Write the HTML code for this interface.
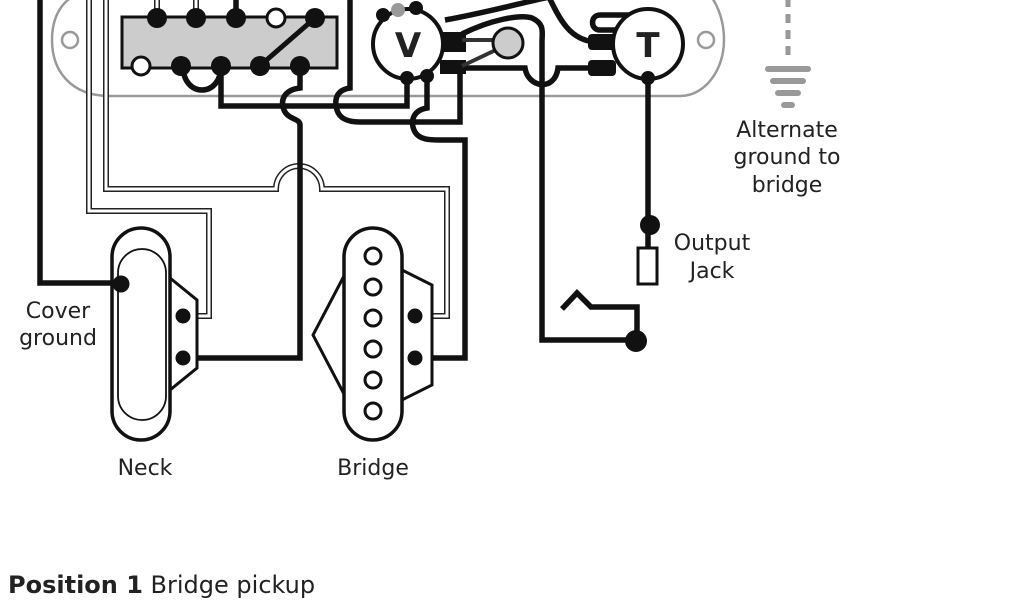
<!DOCTYPE html>
<html><head><meta charset="utf-8"><style>
html,body{margin:0;padding:0;background:#fff;}
svg{display:block;}
text{font-family:"DejaVu Sans","Liberation Sans",sans-serif;fill:#222;}
</style></head><body>
<svg width="1024" height="600" viewBox="0 0 1024 600" xmlns="http://www.w3.org/2000/svg">
<path d="M100,-10 C60,-10 52,20 52,40 C52,70 70,96 110,96 L680,96 C705,96 724,70 724,40 C724,15 712,-10 700,-10" fill="none" stroke="#999" stroke-width="2.5"/>
<circle cx="70" cy="40" r="8" fill="#fff" stroke="#999" stroke-width="2.5"/>
<circle cx="706" cy="40" r="8" fill="#fff" stroke="#999" stroke-width="2.5"/>

<line x1="788" y1="-2" x2="788" y2="62" stroke="#999" stroke-width="5" stroke-dasharray="9,7"/>
<g stroke="#999" stroke-width="6" stroke-linecap="round">
<line x1="768" y1="69" x2="808" y2="69"/><line x1="773" y1="81" x2="803" y2="81"/><line x1="778" y1="93" x2="798" y2="93"/><line x1="784" y1="105" x2="792" y2="105"/>
</g>

<g fill="none" stroke-linejoin="miter">
<path d="M89,-5 L89,211 L209,211 L209,316 L183,316" stroke="#222" stroke-width="6"/>
<path d="M89,-5 L89,211 L209,211 L209,316 L183,316" stroke="#fff" stroke-width="3"/>
<path d="M106,-5 L106,189 L276,189 A22,22 0 0 1 322,189 L447,189 L447,316 L415,316" stroke="#222" stroke-width="6"/>
<path d="M106,-5 L106,189 L276,189 A22,22 0 0 1 322,189 L447,189 L447,316 L415,316" stroke="#fff" stroke-width="3"/>
<path d="M157,-5 L157,18" stroke="#222" stroke-width="6"/><path d="M157,-5 L157,18" stroke="#fff" stroke-width="3"/>
<path d="M196,-5 L196,18" stroke="#222" stroke-width="6"/><path d="M196,-5 L196,18" stroke="#fff" stroke-width="3"/>
</g>

<g fill="none" stroke="#111" stroke-width="5.5" stroke-linejoin="miter">
<path d="M40,-5 L40,283 L120,283"/>
<line x1="236" y1="-5" x2="236" y2="18"/>
<path d="M183,66 C183,98 221,98 221,66"/>
<path d="M221,66 L221,106 L407,106 L407,78"/>
<path d="M300,66 L300,88 C284,90 280,100 284,110 C288,120 300,118 300,125 L300,358 L183,358"/>
<path d="M350,-5 L350,88 C336,90 334,100 337,110 C340,120 350,122 360,122 L460,122 L460,65"/>
<path d="M427,76 L427,108 C414,110 410,120 414,130 C418,140 430,140 440,140 L465,140 L465,358 L415,358"/>
<path d="M465,68 L525,68 C528,88 555,92 558,68 L595,68"/>
<path d="M462,34 C490,20 520,14 532,18 C545,24 542,32 542,42 L542,340 L636,340"/>
<path d="M445,20 C490,12 540,-2 560,-5"/>
<path d="M548,-5 C560,20 570,40 595,42"/>
<path d="M640,15 L600,15 C590,15 590,30 600,30 L620,30"/>
<path d="M648,78 L648,248"/>
<path d="M562,309 L577,293 L591,307 L637,307 L637,340"/>
</g>
<circle cx="650" cy="225" r="10" fill="#111"/>
<rect x="638" y="248" width="19" height="36" fill="#fff" stroke="#111" stroke-width="3"/>
<circle cx="636" cy="341" r="11" fill="#111"/>

<rect x="122" y="17" width="215" height="51" fill="#ccc" stroke="#111" stroke-width="3"/>
<g fill="#111">
<circle cx="157" cy="18" r="10"/><circle cx="196" cy="18" r="10"/><circle cx="236" cy="18" r="10"/><circle cx="315" cy="18" r="10"/>
<circle cx="181" cy="66" r="10"/><circle cx="221" cy="66" r="10"/><circle cx="260" cy="66" r="10"/><circle cx="300" cy="66" r="10"/>
</g>
<circle cx="276" cy="18" r="9" fill="#fff" stroke="#111" stroke-width="3"/>
<circle cx="141" cy="66" r="9" fill="#fff" stroke="#111" stroke-width="3"/>
<line x1="315" y1="18" x2="262" y2="64" stroke="#111" stroke-width="5"/>

<rect x="440" y="32" width="26" height="20" fill="#111"/>
<rect x="440" y="60" width="26" height="14" fill="#111"/>
<line x1="462" y1="40" x2="500" y2="40" stroke="#333" stroke-width="4"/>
<line x1="462" y1="66" x2="500" y2="48" stroke="#333" stroke-width="4"/>
<circle cx="508" cy="43" r="15" fill="#ccc" stroke="#111" stroke-width="3"/>
<circle cx="408" cy="44" r="35" fill="#fff" stroke="#111" stroke-width="4"/>
<text x="408" y="57" font-size="34" font-weight="bold" text-anchor="middle">V</text>
<circle cx="383" cy="15" r="7" fill="#111"/><circle cx="398" cy="10" r="7" fill="#999"/><circle cx="416" cy="8" r="7" fill="#111"/>
<circle cx="407" cy="78" r="7" fill="#111"/><circle cx="427" cy="76" r="7" fill="#111"/>

<rect x="588" y="34" width="28" height="16" rx="4" fill="#111"/>
<rect x="588" y="60" width="28" height="16" rx="4" fill="#111"/>
<circle cx="648" cy="44" r="35" fill="#fff" stroke="#111" stroke-width="4"/>
<text x="648" y="57" font-size="34" font-weight="bold" text-anchor="middle">T</text>
<circle cx="648" cy="78" r="7" fill="#111"/>

<polygon points="170,278 197,300 197,368 170,390" fill="#fff" stroke="#111" stroke-width="3"/>
<rect x="112" y="228" width="58" height="212" rx="29" fill="#fff" stroke="#111" stroke-width="3.5"/>
<rect x="118" y="249" width="48" height="171" rx="24" fill="none" stroke="#111" stroke-width="1.8"/>
<circle cx="183" cy="316" r="7.5" fill="#111"/><circle cx="183" cy="358" r="7.5" fill="#111"/>
<circle cx="121" cy="284" r="8.5" fill="#111"/>

<polyline points="344,276 313,335 344,394" fill="#fff" stroke="#111" stroke-width="3"/>
<polygon points="402,270 432,285 432,385 402,400" fill="#fff" stroke="#111" stroke-width="3"/>
<rect x="344" y="228" width="58" height="212" rx="29" fill="#fff" stroke="#111" stroke-width="3.5"/>
<g fill="#fff" stroke="#111" stroke-width="3">
<circle cx="373" cy="256" r="8"/><circle cx="373" cy="287" r="8"/><circle cx="373" cy="318" r="8"/><circle cx="373" cy="349" r="8"/><circle cx="373" cy="380" r="8"/><circle cx="373" cy="411" r="8"/>
</g>
<circle cx="415" cy="316" r="7.5" fill="#111"/><circle cx="415" cy="358" r="7.5" fill="#111"/>

<g font-size="22" text-anchor="middle">
<text x="787" y="137">Alternate</text>
<text x="787" y="164">ground to</text>
<text x="787" y="192">bridge</text>
<text x="712" y="250">Output</text>
<text x="712" y="278">Jack</text>
<text x="58" y="318">Cover</text>
<text x="58" y="345">ground</text>
<text x="145" y="475">Neck</text>
<text x="373" y="475">Bridge</text>
</g>
<text x="8" y="593" font-size="24" font-family="Liberation Sans, sans-serif"><tspan font-weight="bold">Position 1</tspan> Bridge pickup</text>
</svg>
</body></html>
